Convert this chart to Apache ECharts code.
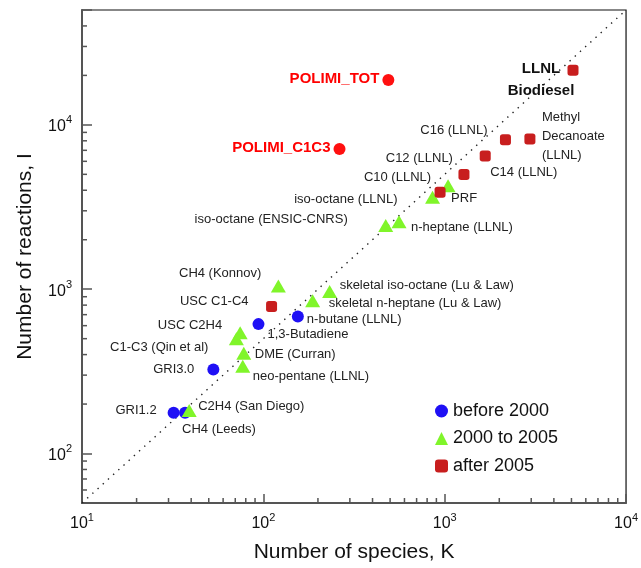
<!DOCTYPE html>
<html><head><meta charset="utf-8">
<script src="https://cdn.jsdelivr.net/npm/echarts@6/dist/echarts.min.js"></script>
<style>html,body{margin:0;padding:0;background:#fff}#c{width:641px;height:568px}</style>
</head><body><div id="c"></div>
<script>
// ---------- data ----------
const beforeNames = ['GRI1.2', 'CH4 (Leeds)', 'GRI3.0', '1,3-Butadiene', 'n-butane (LLNL)'];
const beforeSpecies = [32, 37, 53, 94, 155];
const beforeReactions = [177, 177, 325, 613, 682];

const midNames = ['C2H4 (San Diego)', 'C1-C3 (Qin et al)', 'USC C2H4', 'neo-pentane (LLNL)', 'DME (Curran)',
  'CH4 (Konnov)', 'skeletal n-heptane (Lu & Law)', 'skeletal iso-octane (Lu & Law)',
  'iso-octane (ENSIC-CNRS)', 'n-heptane (LLNL)', 'iso-octane (LLNL)', 'PRF'];
const midSpecies = [39, 71, 74.5, 77, 78, 121, 187, 232, 473, 560, 857, 1044];
const midReactions = [183, 500, 543, 340, 407, 1044, 850, 967, 2437, 2576, 3623, 4263];

const afterNames = ['USC C1-C4', 'C10 (LLNL)', 'C12 (LLNL)', 'C14 (LLNL)', 'C16 (LLNL)',
  'Methyl\nDecanoate\n(LLNL)', 'LLNL\nBiodiesel'];
const afterSpecies = [111, 943, 1277, 1673, 2163, 2950, 5100];
const afterReactions = [785, 3885, 4997, 6455, 8110, 8190, 21500];

const polimiNames = ['POLIMI_C1C3', 'POLIMI_TOT'];
const polimiSpecies = [263, 489];
const polimiReactions = [7120, 18760];

const legendNames = ['before 2000', '2000 to 2005', 'after 2005'];
const refLine = [[10, 50], [10000, 50000]];

const xMinorTicks = [20, 30, 40, 50, 60, 70, 80, 90, 200, 300, 400, 500, 600, 700, 800, 900,
  2000, 3000, 4000, 5000, 6000, 7000, 8000, 9000];
const yMinorTicks = [60, 70, 80, 90, 200, 300, 400, 500, 600, 700, 800, 900,
  2000, 3000, 4000, 5000, 6000, 7000, 8000, 9000, 20000, 30000, 40000];

// ---------- label placement (styles) ----------
const labelLayout = {
  'GRI1.2': ['right', -17, -2],
  'CH4 (Leeds)': ['left', -3, 17],
  'GRI3.0': ['right', -19, 0],
  '1,3-Butadiene': ['left', 9, 10],
  'n-butane (LLNL)': ['left', 9, 3],
  'C2H4 (San Diego)': ['left', 9, -4],
  'C1-C3 (Qin et al)': ['right', -28, 9],
  'USC C2H4': ['right', -18, -7],
  'neo-pentane (LLNL)': ['left', 10, 10],
  'DME (Curran)': ['left', 11, 1],
  'CH4 (Konnov)': ['right', -17, -13],
  'skeletal n-heptane (Lu & Law)': ['left', 16, 3],
  'skeletal iso-octane (Lu & Law)': ['left', 10, -6],
  'iso-octane (ENSIC-CNRS)': ['right', -38, -6],
  'n-heptane (LLNL)': ['left', 12, 6],
  'iso-octane (LLNL)': ['right', -35, 2],
  'PRF': ['left', 3, 13],
  'USC C1-C4': ['right', -23, -5],
  'C10 (LLNL)': ['right', -9, -15],
  'C12 (LLNL)': ['right', -11, -16],
  'C14 (LLNL)': ['left', 5, 16],
  'C16 (LLNL)': ['right', -18, -9],
  'Methyl\nDecanoate\n(LLNL)': ['left', 12, -3],
  'LLNL\nBiodiesel': ['center', -32, 10],
  'POLIMI_C1C3': ['right', -9, -1],
  'POLIMI_TOT': ['right', -9, -1]
};

const FONT = '"Liberation Sans", Arial, Helvetica, sans-serif';
const TXT = '#222';

function labelFor(n) {
  const L = labelLayout[n];
  const lab = {
    show: true, position: 'inside', align: L[0], verticalAlign: 'middle',
    offset: [L[1], L[2]], formatter: p => p.name,
    fontFamily: FONT, fontSize: 13, color: TXT, lineHeight: 19
  };
  if (n.startsWith('POLIMI')) { lab.fontSize = 15; lab.fontWeight = 'bold'; lab.color = '#ff0000'; }
  if (n.startsWith('LLNL')) { lab.fontSize = 15; lab.fontWeight = 'bold'; lab.color = '#111'; lab.lineHeight = 22; }
  return lab;
}
function pts(names, xs, ys) {
  return names.map((n, i) => ({ name: n, value: [xs[i], ys[i]], label: labelFor(n) }));
}

function powLabel(v) {
  const l = Math.log10(v), e = Math.round(l);
  if (Math.abs(l - e) > 1e-6) return '';
  return '{b|10}{s|' + e + '}';
}
const richPow = {
  b: { fontSize: 16, fontFamily: FONT, color: '#111', verticalAlign: 'bottom', lineHeight: 20 },
  s: { fontSize: 11, fontFamily: FONT, color: '#111', verticalAlign: 'top', lineHeight: 20 }
};

const AX = '#555';

function minorRender(kind) {
  return function (params, api) {
    const p = api.coord([api.value(0), api.value(1)]);
    const shape = kind === 'x'
      ? { x1: p[0], y1: p[1], x2: p[0], y2: p[1] - 5 }
      : { x1: p[0], y1: p[1], x2: p[0] + 5, y2: p[1] };
    return { type: 'line', shape: shape, style: { stroke: AX, lineWidth: 1.5 } };
  };
}

const chart = echarts.init(document.getElementById('c'));
chart.setOption({
  animation: false,
  backgroundColor: '#fff',
  grid: { left: 82, right: 12.5, top: 10, bottom: 64, show: true, borderColor: '#111', borderWidth: 1.2 },
  legend: {
    data: legendNames, orient: 'vertical', left: 430, top: 397,
    itemWidth: 13, itemHeight: 13, itemGap: 9.5,
    textStyle: { fontFamily: FONT, fontSize: 18, color: '#111', lineHeight: 18 }
  },
  xAxis: {
    type: 'log', logBase: 10, min: 10, max: 10000,
    name: 'Number of species, K', nameLocation: 'middle', nameGap: 39, nameMoveOverlap: false,
    nameTextStyle: { fontFamily: FONT, fontSize: 21, color: '#111' },
    axisLine: { show: true, lineStyle: { color: AX, width: 2 } },
    axisTick: { show: true, inside: true, length: 9, lineStyle: { color: AX, width: 1.5 } },
    axisLabel: { formatter: powLabel, rich: richPow, margin: 9, showMinLabel: true, showMaxLabel: true },
    splitLine: { show: false }, minorTick: { show: false }
  },
  yAxis: {
    type: 'log', logBase: 10, min: 50, max: 50000,
    name: 'Number of reactions, I', nameLocation: 'middle', nameGap: 46,
    nameTextStyle: { fontFamily: FONT, fontSize: 21, color: '#111' },
    axisLine: { show: true, lineStyle: { color: AX, width: 2 } },
    axisTick: { show: true, inside: true, length: 10, lineStyle: { color: AX, width: 1.5 } },
    axisLabel: { formatter: powLabel, rich: richPow, margin: 10 },
    splitLine: { show: false }, minorTick: { show: false }
  },
  series: [
    {
      type: 'line', data: refLine, symbol: 'none', silent: true, z: 1,
      lineStyle: { color: '#222', width: 1.4, type: [1.4, 5.6] }
    },
    {
      type: 'custom', silent: true, renderItem: minorRender('x'), clip: false, z: 3,
      data: xMinorTicks.map(v => [v, 50])
    },
    {
      type: 'custom', silent: true, renderItem: minorRender('y'), clip: false, z: 3,
      data: yMinorTicks.map(v => [10, v])
    },
    {
      name: 'before 2000', type: 'scatter', symbol: 'circle', symbolSize: 12, z: 4,
      itemStyle: { color: '#1f10f5', opacity: 1 },
      data: pts(beforeNames, beforeSpecies, beforeReactions)
    },
    {
      name: '2000 to 2005', type: 'scatter', symbol: 'triangle', symbolSize: [15, 13], z: 4,
      itemStyle: { color: '#80f52a', opacity: 1 },
      data: pts(midNames, midSpecies, midReactions)
    },
    {
      name: 'after 2005', type: 'scatter', symbol: 'roundRect', symbolSize: 11, z: 4,
      itemStyle: { color: '#c81e1e', opacity: 1 },
      data: pts(afterNames, afterSpecies, afterReactions)
    },
    {
      name: 'POLIMI', type: 'scatter', symbol: 'circle', symbolSize: 12, z: 4,
      itemStyle: { color: '#ff1010', opacity: 1 },
      data: pts(polimiNames, polimiSpecies, polimiReactions)
    }
  ]
});
</script>
</body></html>
